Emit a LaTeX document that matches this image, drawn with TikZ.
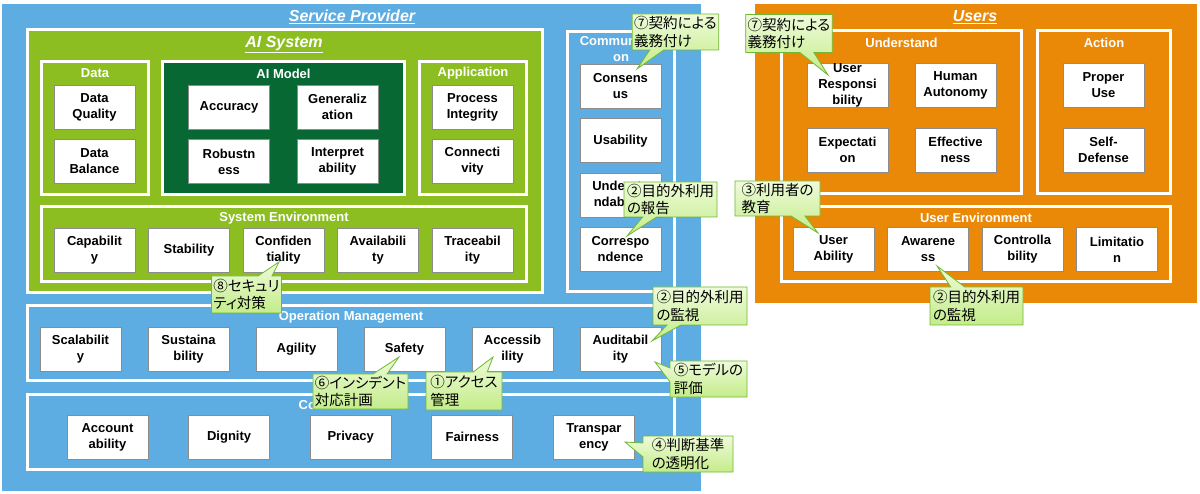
\documentclass[tikz,border=0pt]{standalone}
\usepackage{fontspec}
\setmainfont{Liberation Sans}
\newfontfamily\jpfont[RawFeature=+palt]{Noto Sans CJK JP}
\usetikzlibrary{calc,shapes.callouts}

\definecolor{spblue}{RGB}{93,173,226}
\definecolor{usrorange}{RGB}{234,137,8}
\definecolor{lime}{RGB}{140,190,34}
\definecolor{modelgreen}{RGB}{8,104,52}
\definecolor{boxgray}{RGB}{140,140,140}
\definecolor{memoedge}{RGB}{112,184,48}
\definecolor{memotop}{RGB}{238,251,218}
\definecolor{memobot}{RGB}{196,236,138}

\newcommand\itemfont{\fontsize{13}{16}\selectfont\bfseries}
\newcommand\headfont{\fontsize{13}{16}\selectfont\bfseries}
\newcommand\bigtitlefont{\fontsize{16}{18}\selectfont\bfseries\itshape}
\newcommand\memofont{\jpfont\fontsize{14.5}{17.5}\selectfont}

\tikzset{
  item/.style={draw=boxgray,fill=white,line width=0.8pt,minimum width=81,minimum height=44,
    inner sep=0pt,align=center,font=\itemfont},
  group/.style={draw=white,line width=3pt,inner sep=0pt},
  grouptitle/.style={text=white,font=\headfont,inner sep=0pt,align=center},
  maintitle/.style={text=white,font=\bigtitlefont,inner sep=0pt},
  memo/.style={rectangle callout,draw=memoedge,top color=memotop,bottom color=memobot,
    line width=0.8pt,inner xsep=2pt,inner ysep=1pt,align=left,font=\memofont,callout pointer width=14pt}
}

\begin{document}
\begin{tikzpicture}[x=1pt,y=-1pt]
\useasboundingbox (0,0) rectangle (1200,494);

% two parties
\node[fill=spblue,minimum width=699,minimum height=487,inner sep=0pt] (sp) at (351.5,247.5) {};
\node[fill=usrorange,minimum width=442,minimum height=299,inner sep=0pt] (usr) at (976,153.5) {};
\node[maintitle] (sptitle) at (352,17) {\underline{Service Provider}};
\node[maintitle] (usrtitle) at (975,17) {\underline{Users}};

% service provider groups
\node[group,fill=lime,minimum width=515,minimum height=263] (aisys) at (284.5,161.5) {};
\node[maintitle] (aititle) at (284,45) {\underline{AI System}};
\node[group,fill=lime,minimum width=107,minimum height=133] (data) at (95,128) {};
\node[group,fill=modelgreen,minimum width=242,minimum height=133] (model) at (283.5,128) {};
\node[group,fill=lime,minimum width=107,minimum height=133] (app) at (473,128) {};
\node[group,fill=lime,minimum width=485,minimum height=75] (sysenv) at (284,244) {};
\node[group,fill=spblue,minimum width=107,minimum height=260] (comm) at (621,161.5) {};
\node[group,fill=spblue,minimum width=647,minimum height=75] (ops) at (351,343) {};
\node[group,fill=spblue,minimum width=647,minimum height=75] (code) at (351,432) {};

\node[grouptitle] at ([yshift=-13.5]data.north) {Data};
\node[grouptitle] at ([yshift=-14]model.north) {AI Model};
\node[grouptitle] at ([yshift=-13.5]app.north) {Application};
\node[grouptitle] at ([yshift=-13]sysenv.north) {System Environment};
\node[grouptitle] at ([yshift=-19]comm.north) {Communicati\\on};
\node[grouptitle] at ([yshift=-13]ops.north) {Operation Management};
\node[grouptitle] at ([yshift=-12]code.north) {Code of Conduct};

% users groups
\node[group,fill=usrorange,minimum width=240,minimum height=163] (und) at (901.5,112) {};
\node[group,fill=usrorange,minimum width=133,minimum height=163] (act) at (1104,112) {};
\node[group,fill=usrorange,minimum width=389,minimum height=75] (usrenv) at (976,244) {};
\node[grouptitle] at ([yshift=-13.5]und.north) {Understand};
\node[grouptitle] at ([yshift=-13.5]act.north) {Action};
\node[grouptitle] at ([yshift=-13]usrenv.north) {User Environment};

% items
\node[item] (dq) at (94.5,107) {Data\\Quality};
\node[item] (db) at (94.5,161.5) {Data\\Balance};
\node[item] (accu) at (229,107) {Accuracy};
\node[item] (gen) at (337.5,107) {Generaliz\\ation};
\node[item] (rob) at (229,161.5) {Robustn\\ess};
\node[item] (interp) at (337.5,161.5) {Interpret\\ability};
\node[item] (proc) at (472.5,107) {Process\\Integrity};
\node[item] (conn) at (472.5,161.5) {Connecti\\vity};

\foreach \i/\nm/\txt in {0/capa/{Capabilit\\y},1/stab/Stability,2/conf/{Confiden\\tiality},
    3/avail/{Availabili\\ty},4/trace/{Traceabil\\ity}}
  \node[item] (\nm) at (94.5+94.5*\i,250) {\txt};

\foreach \i/\nm/\txt in {0/cons/{Consens\\us},1/usab/Usability,2/under/{Understa\\ndability},
    3/corr/{Correspo\\ndence}}
  \node[item] (\nm) at (620.5,86.5+54.3*\i) {\txt};

\foreach \i/\nm/\txt in {0/scal/{Scalabilit\\y},1/sust/{Sustaina\\bility},2/agil/Agility,
    3/safe/Safety,4/access/{Accessib\\ility},5/audit/{Auditabil\\ity}}
  \node[item] (\nm) at (80.5+108*\i,349) {\txt};

\foreach \i/\nm/\txt in {0/acct/{Account\\ability},1/dign/Dignity,2/priv/Privacy,
    3/fair/Fairness,4/transp/{Transpar\\ency}}
  \node[item] (\nm) at (107.5+121.6*\i,437) {\txt};

\node[item] (uresp) at (847.5,85) {User\\Responsi\\bility};
\node[item] (auto) at (955.5,85) {Human\\Autonomy};
\node[item] (expe) at (847.5,150) {Expectati\\on};
\node[item] (effe) at (955.5,150) {Effective\\ness};
\node[item] (proper) at (1103.5,85) {Proper\\Use};
\node[item] (selfdef) at (1103.5,150) {Self-\\Defense};

\foreach \i/\nm/\txt in {0/uabil/{User\\Ability},1/aware/{Awarene\\ss},2/ctrl/{Controlla\\bility},
    3/limit/{Limitatio\\n}}
  \node[item] (\nm) at (833.5+94.5*\i,249.5) {\txt};

% pointer tips
\coordinate (t1) at ($(cons)+(16.5,-17.5)$);
\coordinate (t2) at ($(uresp)+(-19.5,-10)$);
\coordinate (t3) at ($(corr)+(6.5,-13.4)$);
\coordinate (t4) at ($(uabil)+(-15.5,-16.5)$);
\coordinate (t5) at ($(audit)+(31.5,-8)$);
\coordinate (t6) at ($(aware)+(9,16.5)$);
\coordinate (t7) at ($(conf)+(-4.5,12)$);
\coordinate (t8) at ($(safe)+(-5.5,8)$);
\coordinate (t9) at ($(access)+(-19.5,8)$);
\coordinate (t10) at ($(audit)+(34.5,13)$);
\coordinate (t11) at ($(transp)+(31,5)$);

% callouts
\node[memo,minimum width=85,minimum height=36,callout absolute pointer={(t1)}] (m1) at (675.5,32) {⑦契約による\\義務付け};
\node[memo,minimum width=86,minimum height=38,callout absolute pointer={(t2)}] (m2) at (789,33.5) {⑦契約による\\義務付け};
\node[memo,minimum width=93,minimum height=35,callout absolute pointer={(t3)}] (m3) at (670.5,199.5) {②目的外利用\\の報告};
\node[memo,minimum width=85,minimum height=35,callout absolute pointer={(t4)}] (m4) at (777.5,198.5) {③利用者の\\教育};
\node[memo,minimum width=94,minimum height=38,callout absolute pointer={(t5)}] (m5) at (700,306) {②目的外利用\\の監視};
\node[memo,minimum width=93,minimum height=38,callout absolute pointer={(t6)}] (m6) at (976.5,306) {②目的外利用\\の監視};
\node[memo,minimum width=69,minimum height=37,callout absolute pointer={(t7)}] (m7) at (246.5,294.5) {⑧セキュリ\\ティ対策};
\node[memo,minimum width=89,minimum height=35,callout absolute pointer={(t8)}] (m8) at (360.5,391.5) {⑥インシデント\\対応計画};
\node[memo,minimum width=76,minimum height=38,callout absolute pointer={(t9)}] (m9) at (464,391) {①アクセス\\管理};
\node[memo,minimum width=77,minimum height=36,callout absolute pointer={(t10)}] (m10) at (708.5,379) {⑤モデルの\\評価};
\node[memo,minimum width=90,minimum height=36,callout absolute pointer={(t11)}] (m11) at (688,454) {④判断基準\\の透明化};
\end{tikzpicture}
\end{document}
